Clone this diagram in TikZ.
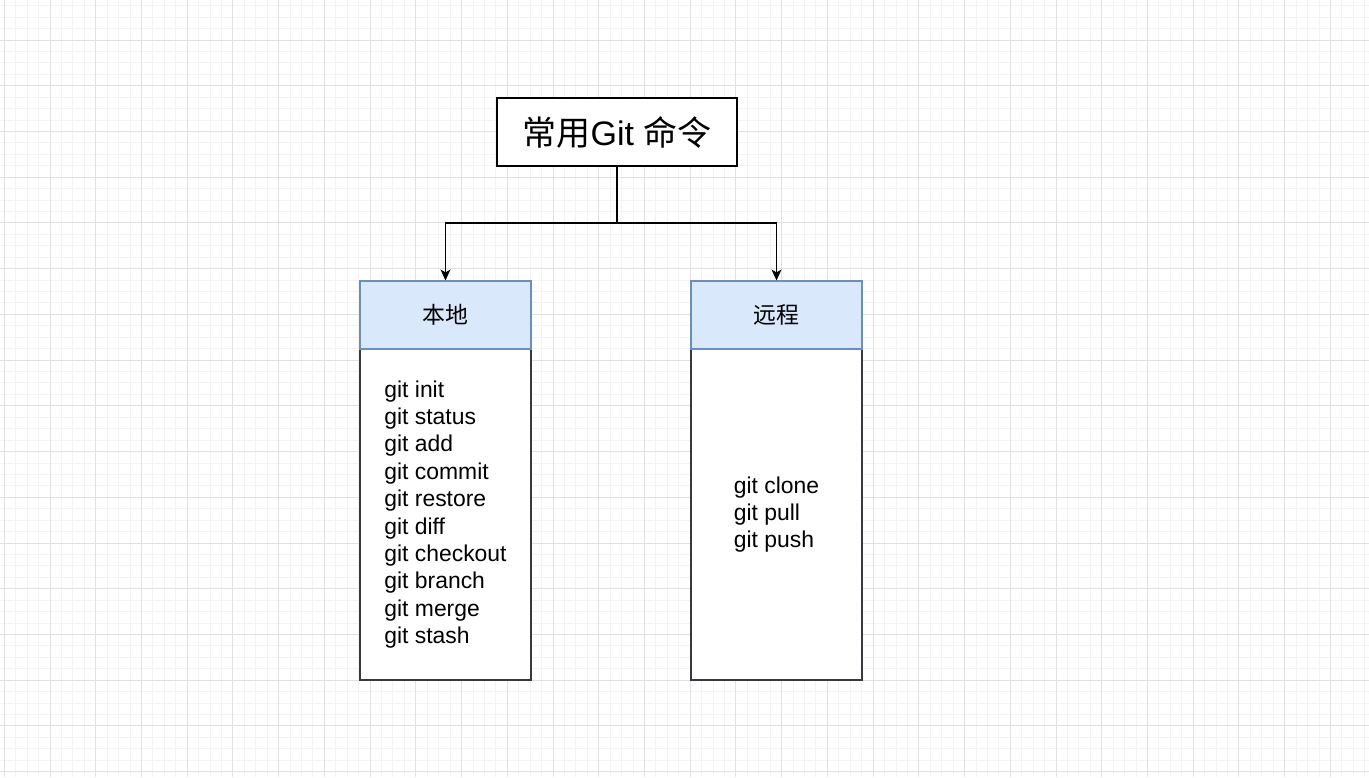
\documentclass[tikz,border=0pt]{standalone}
\usepackage{fontspec}
\setmainfont{Liberation Sans}
\newfontfamily\cjk{Noto Sans CJK SC}
\usetikzlibrary{arrows.meta}
\definecolor{minorline}{RGB}{243,243,243}
\definecolor{majorline}{RGB}{225,225,225}
\definecolor{headfill}{RGB}{218,232,252}
\definecolor{headdraw}{RGB}{108,142,191}
\definecolor{bodydraw}{RGB}{54,57,61}

\begin{document}
\begin{tikzpicture}[x=1pt, y=-1pt, line width=1.1pt,
    cmdbox/.style = {draw, fill=white, minimum width=240pt, minimum height=68pt, inner sep=0pt, font=\fontsize{34}{40}\selectfont},
    head/.style = {draw=headdraw, fill=headfill, minimum width=171pt, minimum height=68pt, inner sep=0pt, font=\fontsize{22.9}{27.4}\selectfont\cjk},
    body/.style = {draw=bodydraw, fill=white, minimum width=171pt, minimum height=331pt, inner sep=0pt, align=left, font=\fontsize{22.9}{27.4}\selectfont},
    link/.style = {-{Stealth[length=11pt, width=10pt, inset=3pt]}, line width=1.1pt}]
    \useasboundingbox[fill=white] (0,0) rectangle (1369,777);
    \begin{scope}
        \clip (0,0) rectangle (1369,777);
        \foreach \i in {0,...,120} \draw[minorline, line width=1pt] ({4.27+11.4325*\i},0) -- ++(0,777);
        \foreach \i in {0,...,68} \draw[minorline, line width=1pt] (0,{5.7+11.4325*\i}) -- ++(1369,0);
        \foreach \i in {0,...,30} \draw[majorline, line width=1pt] ({4.27+45.73*\i},0) -- ++(0,777);
        \foreach \i in {0,...,17} \draw[majorline, line width=1pt] (0,{-5.73+45.73*\i}) -- ++(1369,0);
    \end{scope}

    \node[cmdbox] (cmd) at (617,132) {{\cjk 常用}Git {\cjk 命令}};
    \node[body] (localbody) at (445.5,514.5) {git init\\git status\\git add\\git commit\\git restore\\git diff\\git checkout\\git branch\\git merge\\git stash};
    \node[head] (local) at (445.5,315) {本地};
    \node[body] (remotebody) at (776.5,514.5) {git clone\\git pull\\git push};
    \node[head] (remote) at (776.5,315) {远程};
    \coordinate (split) at (617,223);
    \draw[link] (cmd.south) -- (split) -| (local.north);
    \draw[link] (split) -| (remote.north);
\end{tikzpicture}
\end{document}
